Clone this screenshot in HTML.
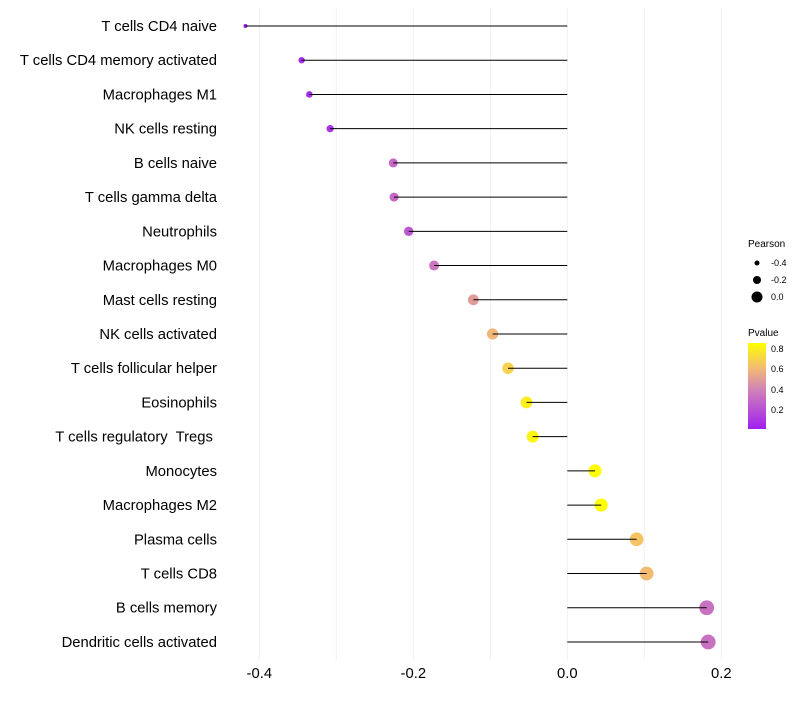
<!DOCTYPE html>
<html><head><meta charset="utf-8"><style>
body{margin:0;background:#fff;font-family:"Liberation Sans",sans-serif}
svg text{font-family:"Liberation Sans",sans-serif}
</style></head><body>
<svg id="chart" width="800" height="700" viewBox="0 0 800 700" xmlns="http://www.w3.org/2000/svg">
<defs><linearGradient id="pg" x1="0" y1="1" x2="0" y2="0">
<stop offset="0" stop-color="#a020f0"/><stop offset="0.45" stop-color="#d080b8"/><stop offset="0.7" stop-color="#f2b878"/><stop offset="1" stop-color="#ffff00"/></linearGradient></defs>
<g id="grid"></g>
<g id="marks"></g>
<g id="ylabels"></g>
<g id="xlabels"></g>
<g>
<text x="748" y="247" font-size="10">Pearson</text>
<circle cx="757" cy="263" r="2.5" fill="#000"/><text x="771" y="266" font-size="9">-0.4</text>
<circle cx="757" cy="280" r="4" fill="#000"/><text x="771" y="283" font-size="9">-0.2</text>
<circle cx="757" cy="297" r="5.5" fill="#000"/><text x="771" y="300" font-size="9">0.0</text>
</g>
<g>
<text x="748" y="336" font-size="10">Pvalue</text>
<rect x="748" y="343" width="18" height="86" fill="url(#pg)"/>
<text x="771" y="352" font-size="9">0.8</text>
<text x="771" y="372" font-size="9">0.6</text>
<text x="771" y="393" font-size="9">0.4</text>
<text x="771" y="413" font-size="9">0.2</text>
</g>
</svg>
<script>
const categories=["T cells CD4 naive","T cells CD4 memory activated","Macrophages M1","NK cells resting","B cells naive","T cells gamma delta","Neutrophils","Macrophages M0","Mast cells resting","NK cells activated","T cells follicular helper","Eosinophils","T cells regulatory  Tregs ","Monocytes","Macrophages M2","Plasma cells","T cells CD8","B cells memory","Dendritic cells activated"];
const pearson=[-0.418,-0.345,-0.335,-0.308,-0.226,-0.225,-0.206,-0.173,-0.122,-0.097,-0.077,-0.053,-0.045,0.036,0.044,0.090,0.103,0.181,0.183];
const pvalue=[0.02,0.06,0.07,0.1,0.3,0.3,0.24,0.36,0.5,0.6,0.7,0.8,0.82,0.86,0.86,0.65,0.62,0.34,0.34];
const xTicks=[-0.4,-0.2,0.0,0.2];
const xTickLabels=["-0.4","-0.2","0.0","0.2"];
const NS="http://www.w3.org/2000/svg";
const xs=v=>567.3+v*770;
const ys=i=>26+i*34.22;
const rs=v=>Math.sqrt(Math.max(0.5,4+(v+0.418)*85));
function lerp(a,b,t){return a.map((x,i)=>Math.round(x+(b[i]-x)*t));}
function col(p){const t=Math.min(1,Math.max(0,(p-0.02)/0.84));
const st=[[0,[160,32,240]],[0.45,[208,128,184]],[0.7,[242,184,120]],[1,[255,255,0]]];
for(let k=1;k<st.length;k++){if(t<=st[k][0]){const c=lerp(st[k-1][1],st[k][1],(t-st[k-1][0])/(st[k][0]-st[k-1][0]));return `rgb(${c})`;}}return "rgb(255,255,0)";}
function mk(tag,at,parent){const e=document.createElementNS(NS,tag);for(const k in at)e.setAttribute(k,at[k]);parent.appendChild(e);return e;}
const grid=document.getElementById('grid'),marks=document.getElementById('marks'),yl=document.getElementById('ylabels'),xl=document.getElementById('xlabels');
for(let v=-0.4;v<=0.2001;v+=0.1){const g=mk('line',{x1:xs(v),x2:xs(v),y1:8,y2:660,stroke:'#f0f0f0','stroke-width':1},grid);

}
categories.forEach((c,i)=>{
const y=ys(i);
const p=mk('circle',{cx:xs(pearson[i]),cy:y,r:rs(pearson[i]),fill:col(pvalue[i])},marks);


const l=mk('line',{x1:xs(0),x2:xs(pearson[i]),y1:y,y2:y,stroke:'#000','stroke-width':1},marks);


const t=mk('text',{x:217,y:y+5,'text-anchor':'end','font-size':14.8,fill:'#000'},yl);
t.setAttribute('xml:space','preserve');
t.style.whiteSpace='pre';
t.textContent=c;


});
xTicks.forEach((v,i)=>{const t=mk('text',{x:xs(v),y:678,'text-anchor':'middle','font-size':14.8,fill:'#000'},xl);t.textContent=xTickLabels[i];

});
</script>
</body></html>
